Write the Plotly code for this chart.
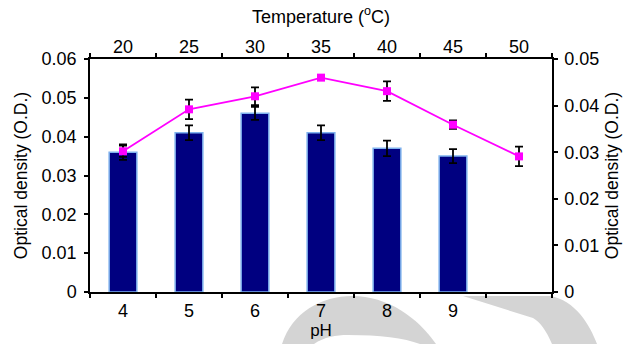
import plotly.graph_objects as go

# Data
ph_labels = ["4", "5", "6", "7", "8", "9", " "]
ph_od = [0.036, 0.041, 0.046, 0.041, 0.037, 0.035]
ph_err = [0.0020, 0.0019, 0.0017, 0.0019, 0.0020, 0.0018]

temp_labels = ["20", "25", "30", "35", "40", "45", "50"]
temp_od = [0.0302, 0.0392, 0.0420, 0.0460, 0.0431, 0.0359, 0.0291]
temp_err = [0.0012, 0.0021, 0.0019, 0.0004, 0.0021, 0.0009, 0.0021]

left_ticks = [0, 0.01, 0.02, 0.03, 0.04, 0.05, 0.06]
left_ticktext = ["0", "0.01", "0.02", "0.03", "0.04", "0.05", "0.06"]
right_ticks = [0, 0.01, 0.02, 0.03, 0.04, 0.05]
right_ticktext = ["0", "0.01", "0.02", "0.03", "0.04", "0.05"]

FONT = "Liberation Sans, Arial, sans-serif"

# plot area in pixels (for decorative watermark conversion)
L, R, T, B = 90, 552, 59, 292


def px(x, y):
    return (x - L) / (R - L), (B - y) / (B - T)


def path(points):
    parts = []
    for cmd, pts in points:
        coords = " ".join("%.4f,%.4f" % px(*p) for p in pts)
        parts.append(cmd + " " + coords if coords else cmd)
    return " ".join(parts)


fig = go.Figure()

# faint gray watermark fragments at the bottom
wm_outer = path([("M", [(282, 344)]), ("C", [(292, 312), (322, 296), (352, 296)]),
                 ("C", [(388, 296), (418, 318), (436, 344)]), ("Z", [])])
wm_inner = path([("M", [(314, 344)]), ("C", [(324, 337), (336, 335), (348, 335)]),
                 ("C", [(380, 335), (404, 338), (420, 344)]), ("Z", [])])
wm_wedge = path([("M", [(463, 296)]), ("L", [(550, 296), (556, 283)]),
                 ("C", [(575, 300), (590, 325), (597, 344)]), ("L", [(552, 344)]),
                 ("C", [(546, 330), (540, 322), (533, 318)]), ("Z", [])])
for p, c in [(wm_outer, "#d4d4d4"), (wm_inner, "white"), (wm_wedge, "#d4d4d4")]:
    fig.add_shape(type="path", path=p, xref="paper", yref="paper",
                  fillcolor=c, line=dict(width=0), layer="below")

fig.add_trace(go.Bar(
    x=ph_labels[:len(ph_od)], y=ph_od,
    xaxis="x", yaxis="y",
    width=0.42,
    marker=dict(color="#000080", line=dict(color="#7fb2ee", width=1.5)),
    error_y=dict(type="data", array=ph_err, color="black", thickness=1.8, width=4),
    showlegend=False,
))

fig.add_trace(go.Scatter(
    x=temp_labels, y=temp_od,
    xaxis="x2", yaxis="y2",
    mode="lines+markers",
    line=dict(color="#ff00ff", width=1.8),
    marker=dict(symbol="square", size=8, color="#ff00ff"),
    error_y=dict(type="data", array=temp_err, color="black", thickness=1.8, width=4),
    showlegend=False,
))

axis_common = dict(
    showline=True, linecolor="black", linewidth=1.5,
    ticks="outside", ticklen=4, tickcolor="black", tickwidth=1.5,
    showgrid=False, zeroline=False,
    tickfont=dict(family=FONT, size=18, color="black"),
)

fig.update_layout(
    width=631, height=344,
    margin=dict(l=L, r=631 - R, t=T, b=344 - B),
    paper_bgcolor="white", plot_bgcolor="white",
    font=dict(family=FONT, color="black"),
    xaxis=dict(
        **axis_common,
        type="category", categoryorder="array", categoryarray=ph_labels,
        range=[-0.5, 6.5], tickson="boundaries", ticklabelstandoff=2,
        title=dict(text="pH", font=dict(family=FONT, size=17), standoff=0),
    ),
    xaxis2=dict(
        **axis_common,
        type="category", categoryorder="array", categoryarray=temp_labels,
        range=[-0.5, 6.5], tickson="boundaries", ticklabelstandoff=-3,
        overlaying="x", side="top", anchor="y",
        title=dict(text="Temperature (<sup>o</sup>C)", font=dict(family=FONT, size=18), standoff=9),
    ),
    yaxis=dict(
        **axis_common,
        range=[0, 0.06], tickvals=left_ticks, ticktext=left_ticktext, ticklabelstandoff=4,
        title=dict(text="Optical density (O.D.)", font=dict(family=FONT, size=17.5), standoff=9),
    ),
    yaxis2=dict(
        **axis_common,
        range=[0, 0.05], tickvals=right_ticks, ticktext=right_ticktext, ticklabelstandoff=3,
        overlaying="y", side="right", anchor="x",
        title=dict(text="Optical density (O.D.)", font=dict(family=FONT, size=17.5), standoff=7),
    ),
)

fig.write_html("out.html")
